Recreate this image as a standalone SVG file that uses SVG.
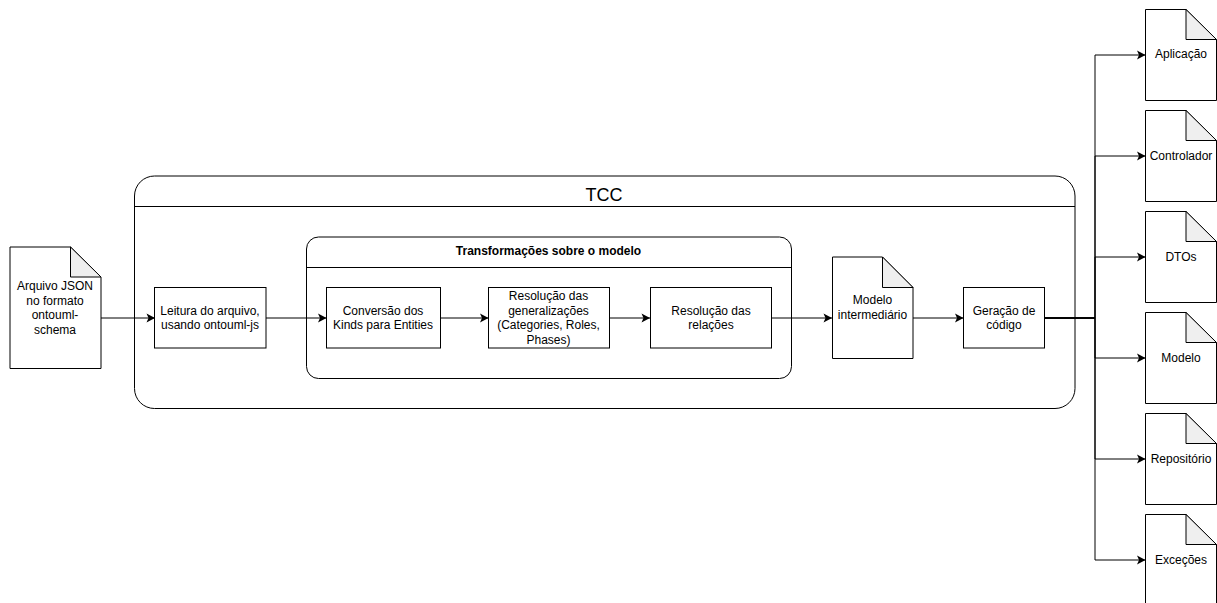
<svg xmlns="http://www.w3.org/2000/svg" width="1217" height="603" viewBox="0 0 1217 603">
<defs>
<marker id="arrow" markerUnits="userSpaceOnUse" markerWidth="10" markerHeight="10" refX="9" refY="5" orient="auto"><path d="M0.500 0.500L9 5L0.500 9.500L2.500 5Z" fill="#000"/></marker>
</defs>
<style>
text{font-family:"Liberation Sans",Arial,sans-serif;font-size:12px;fill:#000;text-anchor:middle}
.s{fill:#fff;stroke:#000;stroke-width:1}
.n{fill:none;stroke:#000;stroke-width:1}
.f{fill:#efefef;stroke:#000;stroke-width:1}
.c{fill:none;stroke:#000;stroke-width:1}
.a{marker-end:url(#arrow)}
</style>
<rect width="1217" height="603" fill="#fff"/>
<g id="tcc"><rect class="s" x="134.500" y="176" width="940.500" height="232.500" rx="20"/><path class="n" d="M134.500 206.500H1075"/><text x="604" y="200.500" style="font-size:18px">TCC</text></g>
<g id="transformacoes"><rect class="s" x="306.500" y="237" width="485" height="141.500" rx="12"/><path class="n" d="M306.500 267.500H791.500"/><text x="548.500" y="255" style="font-weight:bold">Transformações sobre o modelo</text></g>
<g id="connectors">
<path class="c a" d="M101 318H155"/>
<path class="c a" d="M266 318H326.500"/>
<path class="c a" d="M440.500 318H488.500"/>
<path class="c a" d="M609.500 318H650"/>
<path class="c a" d="M771.500 318H832"/>
<path class="c a" d="M913 318H963.500"/>
<path class="c a" d="M1044.500 318H1095V55H1145.500"/>
<path class="c a" d="M1044.500 318H1095V156H1145.500"/>
<path class="c a" d="M1044.500 318H1095V257H1145.500"/>
<path class="c a" d="M1044.500 318H1095V358H1145.500"/>
<path class="c a" d="M1044.500 318H1095V459H1145.500"/>
<path class="c a" d="M1044.500 318H1095V560H1145.500"/>
</g>
<g id="arquivo-json"><path class="s" d="M10 247H70.500L101 277V368.500H10Z"/><path class="f" d="M70.500 247V277H101Z"/><text x="55" y="290">Arquivo JSON</text><text x="55" y="304.500">no formato</text><text x="55" y="319">ontouml-</text><text x="55" y="333.500">schema</text></g>
<g id="leitura"><rect class="s" x="154.500" y="287.500" width="111.500" height="60.500"/><text x="210" y="314.500">Leitura do arquivo,</text><text x="210" y="329">usando ontouml-js</text></g>
<g id="conversao"><rect class="s" x="326.500" y="287.500" width="114" height="60.500"/><text x="383" y="314.500">Conversão dos</text><text x="383" y="329">Kinds para Entities</text></g>
<g id="resolucao-gen"><rect class="s" x="488.500" y="287.500" width="121" height="60.500"/><text x="548.500" y="300">Resolução das</text><text x="548.500" y="314.500">generalizações</text><text x="548.500" y="329">(Categories, Roles,</text><text x="548.500" y="344">Phases)</text></g>
<g id="resolucao-rel"><rect class="s" x="650.500" y="287.500" width="121" height="60.500"/><text x="711" y="314.500">Resolução das</text><text x="711" y="329">relações</text></g>
<g id="modelo-intermediario"><path class="s" d="M832.500 257H882.500L913 287.500V358.500H832.500Z"/><path class="f" d="M882.500 257V287.500H913Z"/><text x="872.500" y="304">Modelo</text><text x="872.500" y="319">intermediário</text></g>
<g id="geracao"><rect class="s" x="963.500" y="287.500" width="81" height="60.500"/><text x="1004" y="314.500">Geração de</text><text x="1004" y="329">código</text></g>
<g id="aplicacao"><path class="s" d="M1145.500 9.500H1186L1216.500 39.500V100.500H1145.500Z"/><path class="f" d="M1186 9.500V39.500H1216.500Z"/><text x="1181" y="58">Aplicação</text></g>
<g id="controlador"><path class="s" d="M1145.500 110.500H1186L1216.500 140.500V201.500H1145.500Z"/><path class="f" d="M1186 110.500V140.500H1216.500Z"/><text x="1181" y="160">Controlador</text></g>
<g id="dtos"><path class="s" d="M1145.500 211.500H1186L1216.500 241.500V302.500H1145.500Z"/><path class="f" d="M1186 211.500V241.500H1216.500Z"/><text x="1181" y="261">DTOs</text></g>
<g id="modelo"><path class="s" d="M1145.500 312.500H1186L1216.500 342.500V403.500H1145.500Z"/><path class="f" d="M1186 312.500V342.500H1216.500Z"/><text x="1181" y="362">Modelo</text></g>
<g id="repositorio"><path class="s" d="M1145.500 413.500H1186L1216.500 443.500V504.500H1145.500Z"/><path class="f" d="M1186 413.500V443.500H1216.500Z"/><text x="1181" y="463">Repositório</text></g>
<g id="excecoes"><path class="s" d="M1145.500 514.500H1186L1216.500 544.500V605.500H1145.500Z"/><path class="f" d="M1186 514.500V544.500H1216.500Z"/><text x="1181" y="564">Exceções</text></g>
</svg>
